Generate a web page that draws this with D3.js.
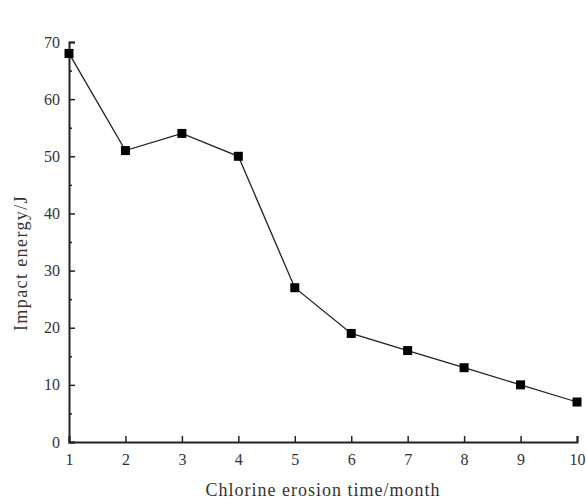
<!DOCTYPE html>
<html>
<head>
<meta charset="utf-8">
<script src="https://cdn.jsdelivr.net/npm/d3@7"></script>
<style>
body { margin: 0; background: #fff; }
text { font-family: "Liberation Serif", "DejaVu Serif", serif; fill: #333; }
</style>
</head>
<body>
<script>
// data
var months = [1, 2, 3, 4, 5, 6, 7, 8, 9, 10];
var energy = [68, 51, 54, 50, 27, 19, 16, 13, 10, 7];
var yTicks = [0, 10, 20, 30, 40, 50, 60, 70];
var yMinor = [5, 15, 25, 35, 45, 55, 65];

var svg = d3.select("body").append("svg")
    .attr("width", 586)
    .attr("height", 500);

var x = d3.scaleLinear().domain([1, 10]).range([69, 577]);
var y = d3.scaleLinear().domain([0, 70]).range([442, 42]);

// axes, ticks inward
svg.append("g")
    .attr("transform", "translate(0,442)")
    .call(d3.axisBottom(x).tickValues(months).tickSize(-6).tickPadding(12).tickFormat(d3.format("d")));

svg.append("g")
    .attr("transform", "translate(69,0)")
    .call(d3.axisLeft(y).tickValues(yTicks).tickSize(-6).tickPadding(9));

svg.append("g")
    .attr("transform", "translate(69,0)")
    .call(d3.axisLeft(y).tickValues(yMinor).tickSize(-3).tickFormat(""))
    .select(".domain").remove();

svg.selectAll(".domain").attr("stroke", "#222").attr("stroke-width", 2);
svg.selectAll(".tick line").attr("stroke", "#222").attr("stroke-width", 1.5);
svg.selectAll(".tick text")
    .style("font-family", "'Liberation Serif', serif")
    .style("font-size", "16px")
    .attr("fill", "#333");

// line + markers
var line = d3.line()
    .x(function(d, i) { return x(months[i]); })
    .y(function(d) { return y(d); });

svg.append("path")
    .datum(energy)
    .attr("d", line)
    .attr("fill", "none")
    .attr("stroke", "#222")
    .attr("stroke-width", 1.3);

svg.selectAll("rect.pt")
    .data(energy)
    .enter().append("rect")
    .attr("class", "pt")
    .attr("x", function(d, i) { return x(months[i]) - 4.5; })
    .attr("y", function(d) { return y(d) - 4.5; })
    .attr("width", 9)
    .attr("height", 9)
    .attr("fill", "#000");

// titles
svg.append("text")
    .attr("x", 323)
    .attr("y", 496)
    .attr("text-anchor", "middle")
    .attr("font-size", "18")
    .attr("letter-spacing", "1")
    .text("Chlorine erosion time/month");

svg.append("text")
    .attr("transform", "translate(27,263) rotate(-90)")
    .attr("text-anchor", "middle")
    .attr("font-size", "18")
    .attr("letter-spacing", "1.4")
    .text("Impact energy/J");
</script>
</body>
</html>
